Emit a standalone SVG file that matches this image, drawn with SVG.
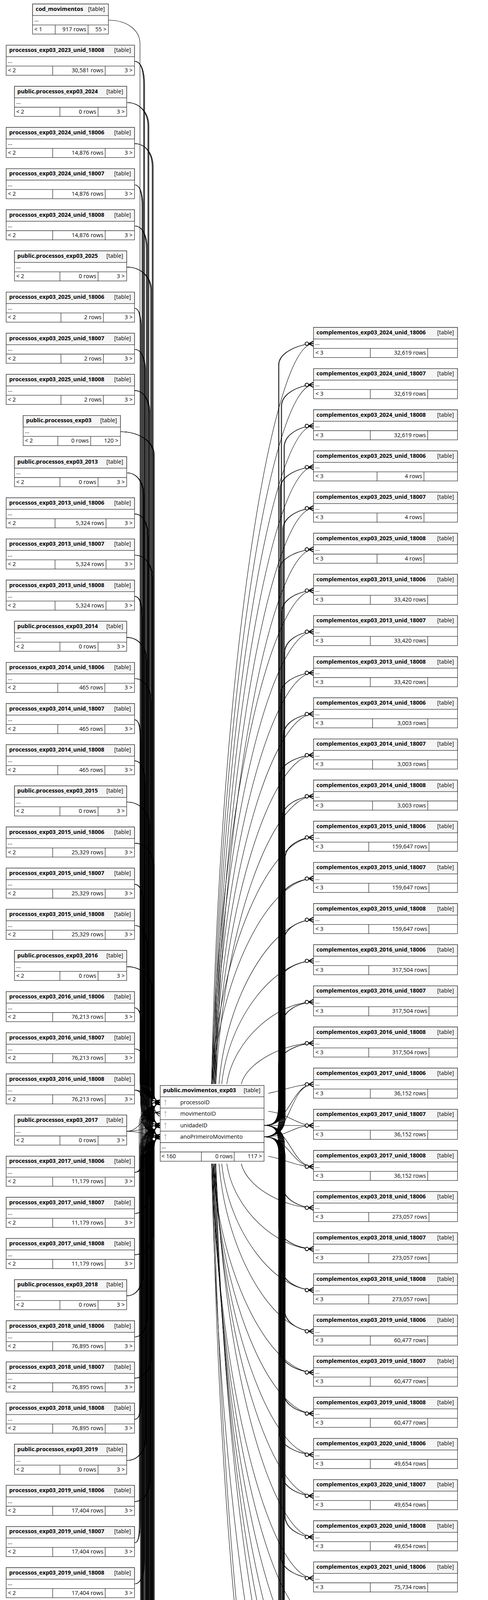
<svg xmlns="http://www.w3.org/2000/svg" width="1248" height="5725" viewBox="0 0 1248 5725">
<style>
text{font-family:"Open Sans","Noto Sans","Liberation Sans",sans-serif;font-size:14.4px;fill:#000}
.n{font-weight:bold}
.r{text-anchor:end}
.bx{fill:#fff;stroke:#333;stroke-width:1.3}
.hd{fill:#f5f5f5;stroke:#333;stroke-width:1.3}
.ln{fill:none;stroke:#333;stroke-width:1.3}
#edges path{fill:none;stroke:#000;stroke-width:1.1;marker-end:url(#cd)}
.key{fill:#c2c2c2}
</style>
<defs>
<marker id="cd" markerUnits="userSpaceOnUse" markerWidth="32" markerHeight="20" viewBox="0 0 32 20" refX="32" refY="10" orient="auto" overflow="visible">
<path d="M19.5,10L32,3.5M19.5,10L32,10M19.5,10L32,16.5" fill="none" stroke="#000" stroke-width="1.9"/>
<circle cx="15" cy="10" r="4.3" fill="#fff" stroke="#000" stroke-width="1.7"/>
</marker>
<g id="key" class="key"><circle cx="0" cy="-4.5" r="2.5"/><rect x="-0.8" y="-2.5" width="1.6" height="10.5"/></g>
<g id="U5"><rect class="bx" width="328.3" height="77"/><rect class="hd" width="328.3" height="29.5"/><path class="ln" d="M0,53.5H328.3M119,53.5V77M253.3,53.5V77"/></g>
<g id="U1"><rect class="bx" width="328.3" height="77"/><rect class="hd" width="328.3" height="29.5"/><path class="ln" d="M0,53.5H328.3M140.2,53.5V77M248.7,53.5V77"/></g>
<g id="U4"><rect class="bx" width="328.3" height="77"/><rect class="hd" width="328.3" height="29.5"/><path class="ln" d="M0,53.5H328.3M125,53.5V77M255.5,53.5V77"/></g>
<g id="U3"><rect class="bx" width="328.3" height="77"/><rect class="hd" width="328.3" height="29.5"/><path class="ln" d="M0,53.5H328.3M132,53.5V77M252.5,53.5V77"/></g>
<g id="P"><rect class="bx" width="287" height="77"/><rect class="hd" width="287" height="29.5"/><path class="ln" d="M0,53.5H287M116.3,53.5V77M213.7,53.5V77"/></g>
<g id="R5"><rect class="bx" width="368.3" height="77"/><rect class="hd" width="368.3" height="29.5"/><path class="ln" d="M0,53.5H368.3M145.3,53.5V77M292,53.5V77"/></g>
<g id="R1"><rect class="bx" width="368.3" height="77"/><rect class="hd" width="368.3" height="29.5"/><path class="ln" d="M0,53.5H368.3M162.6,53.5V77M282.6,53.5V77"/></g>
<g id="R4"><rect class="bx" width="368.3" height="77"/><rect class="hd" width="368.3" height="29.5"/><path class="ln" d="M0,53.5H368.3M151,53.5V77M292.3,53.5V77"/></g>
<g id="R6"><rect class="bx" width="368.3" height="77"/><rect class="hd" width="368.3" height="29.5"/><path class="ln" d="M0,53.5H368.3M141.3,53.5V77M295.3,53.5V77"/></g>
</defs>
<rect width="1248" height="5725" fill="#fff"/>
<g id="edges">
<path d="M277.3,51.8C325,51.8 358,77 358,112V2796.5C358,2831.5 392,2845.5 409.7,2851.5"/>
<path d="M344,157.1C361.5,157.1 367,182.1 367,217.1V2767.2C367,2802.2 392,2816.2 409.7,2822.2"/>
<path d="M344,157.1C361.5,157.1 368.5,182.1 368.5,217.1V2826C368.5,2861 392,2875 409.7,2881"/>
<path d="M344,157.1C361.5,157.1 370,182.1 370,217.1V2855.3C370,2890.3 392,2904.3 409.7,2910.3"/>
<path d="M324,262.5C357,262.5 378,287.5 378,322.5V2767.2C378,2802.2 392,2816.2 409.7,2822.2"/>
<path d="M324,262.5C357,262.5 379.5,287.5 379.5,322.5V2826C379.5,2861 392,2875 409.7,2881"/>
<path d="M324,262.5C357,262.5 381,287.5 381,322.5V2855.3C381,2890.3 392,2904.3 409.7,2910.3"/>
<path d="M344,367.8C372.5,367.8 389,392.8 389,427.8V2767.2C389,2802.2 392,2816.2 409.7,2822.2"/>
<path d="M344,367.8C372.5,367.8 390.5,392.8 390.5,427.8V2826C390.5,2861 392,2875 409.7,2881"/>
<path d="M344,367.8C372.5,367.8 392,392.8 392,427.8V2855.3C392,2890.3 392,2904.3 409.7,2910.3"/>
<path d="M344,473.2C359.5,473.2 363,498.2 363,533.2V2767.2C363,2802.2 392,2816.2 409.7,2822.2"/>
<path d="M344,473.2C359.5,473.2 364.5,498.2 364.5,533.2V2826C364.5,2861 392,2875 409.7,2881"/>
<path d="M344,473.2C359.5,473.2 366,498.2 366,533.2V2855.3C366,2890.3 392,2904.3 409.7,2910.3"/>
<path d="M344,578.5C365,578.5 374,603.5 374,638.5V2767.2C374,2802.2 392,2816.2 409.7,2822.2"/>
<path d="M344,578.5C365,578.5 375.5,603.5 375.5,638.5V2826C375.5,2861 392,2875 409.7,2881"/>
<path d="M344,578.5C365,578.5 377,603.5 377,638.5V2855.3C377,2890.3 392,2904.3 409.7,2910.3"/>
<path d="M324,683.8C360.5,683.8 385,708.8 385,743.8V2767.2C385,2802.2 392,2816.2 409.7,2822.2"/>
<path d="M324,683.8C360.5,683.8 386.5,708.8 386.5,743.8V2826C386.5,2861 392,2875 409.7,2881"/>
<path d="M324,683.8C360.5,683.8 388,708.8 388,743.8V2855.3C388,2890.3 392,2904.3 409.7,2910.3"/>
<path d="M344,789.2C357.5,789.2 359,814.2 359,849.2V2767.2C359,2802.2 392,2816.2 409.7,2822.2"/>
<path d="M344,789.2C357.5,789.2 360.5,814.2 360.5,849.2V2826C360.5,2861 392,2875 409.7,2881"/>
<path d="M344,789.2C357.5,789.2 362,814.2 362,849.2V2855.3C362,2890.3 392,2904.3 409.7,2910.3"/>
<path d="M344,894.5C363,894.5 370,919.5 370,954.5V2767.2C370,2802.2 392,2816.2 409.7,2822.2"/>
<path d="M344,894.5C363,894.5 371.5,919.5 371.5,954.5V2826C371.5,2861 392,2875 409.7,2881"/>
<path d="M344,894.5C363,894.5 373,919.5 373,954.5V2855.3C373,2890.3 392,2904.3 409.7,2910.3"/>
<path d="M344,999.9C368.5,999.9 381,1024.9 381,1059.9V2767.2C381,2802.2 392,2816.2 409.7,2822.2"/>
<path d="M344,999.9C368.5,999.9 382.5,1024.9 382.5,1059.9V2826C382.5,2861 392,2875 409.7,2881"/>
<path d="M344,999.9C368.5,999.9 384,1024.9 384,1059.9V2855.3C384,2890.3 392,2904.3 409.7,2910.3"/>
<path d="M308.1,1105.2C356,1105.2 392,1130.2 392,1165.2V2767.2C392,2802.2 392,2816.2 409.7,2822.2"/>
<path d="M308.1,1105.2C356,1105.2 393.5,1130.2 393.5,1165.2V2826C393.5,2861 392,2875 409.7,2881"/>
<path d="M308.1,1105.2C356,1105.2 395,1130.2 395,1165.2V2855.3C395,2890.3 392,2904.3 409.7,2910.3"/>
<path d="M324,1210.5C351,1210.5 366,1235.5 366,1270.5V2767.2C366,2802.2 392,2816.2 409.7,2822.2"/>
<path d="M324,1210.5C351,1210.5 367.5,1235.5 367.5,1270.5V2826C367.5,2861 392,2875 409.7,2881"/>
<path d="M324,1210.5C351,1210.5 369,1235.5 369,1270.5V2855.3C369,2890.3 392,2904.3 409.7,2910.3"/>
<path d="M344,1315.9C366.5,1315.9 377,1340.9 377,1375.9V2767.2C377,2802.2 392,2816.2 409.7,2822.2"/>
<path d="M344,1315.9C366.5,1315.9 378.5,1340.9 378.5,1375.9V2826C378.5,2861 392,2875 409.7,2881"/>
<path d="M344,1315.9C366.5,1315.9 380,1340.9 380,1375.9V2855.3C380,2890.3 392,2904.3 409.7,2910.3"/>
<path d="M344,1421.2C372,1421.2 388,1446.2 388,1481.2V2767.2C388,2802.2 392,2816.2 409.7,2822.2"/>
<path d="M344,1421.2C372,1421.2 389.5,1446.2 389.5,1481.2V2826C389.5,2861 392,2875 409.7,2881"/>
<path d="M344,1421.2C372,1421.2 391,1446.2 391,1481.2V2855.3C391,2890.3 392,2904.3 409.7,2910.3"/>
<path d="M344,1526.6C359,1526.6 362,1551.6 362,1586.6V2767.2C362,2802.2 392,2816.2 409.7,2822.2"/>
<path d="M344,1526.6C359,1526.6 363.5,1551.6 363.5,1586.6V2826C363.5,2861 392,2875 409.7,2881"/>
<path d="M344,1526.6C359,1526.6 365,1551.6 365,1586.6V2855.3C365,2890.3 392,2904.3 409.7,2910.3"/>
<path d="M324,1631.9C354.5,1631.9 373,1656.9 373,1691.9V2767.2C373,2802.2 392,2816.2 409.7,2822.2"/>
<path d="M324,1631.9C354.5,1631.9 374.5,1656.9 374.5,1691.9V2826C374.5,2861 392,2875 409.7,2881"/>
<path d="M324,1631.9C354.5,1631.9 376,1656.9 376,1691.9V2855.3C376,2890.3 392,2904.3 409.7,2910.3"/>
<path d="M344,1737.2C370,1737.2 384,1762.2 384,1797.2V2767.2C384,2802.2 392,2816.2 409.7,2822.2"/>
<path d="M344,1737.2C370,1737.2 385.5,1762.2 385.5,1797.2V2826C385.5,2861 392,2875 409.7,2881"/>
<path d="M344,1737.2C370,1737.2 387,1762.2 387,1797.2V2855.3C387,2890.3 392,2904.3 409.7,2910.3"/>
<path d="M344,1842.6C357,1842.6 358,1867.6 358,1902.6V2767.2C358,2802.2 392,2816.2 409.7,2822.2"/>
<path d="M344,1842.6C357,1842.6 359.5,1867.6 359.5,1902.6V2826C359.5,2861 392,2875 409.7,2881"/>
<path d="M344,1842.6C357,1842.6 361,1867.6 361,1902.6V2855.3C361,2890.3 392,2904.3 409.7,2910.3"/>
<path d="M344,1947.9C362.5,1947.9 369,1972.9 369,2007.9V2767.2C369,2802.2 392,2816.2 409.7,2822.2"/>
<path d="M344,1947.9C362.5,1947.9 370.5,1972.9 370.5,2007.9V2826C370.5,2861 392,2875 409.7,2881"/>
<path d="M344,1947.9C362.5,1947.9 372,1972.9 372,2007.9V2855.3C372,2890.3 392,2904.3 409.7,2910.3"/>
<path d="M324,2053.3C358,2053.3 380,2078.3 380,2113.3V2767.2C380,2802.2 392,2816.2 409.7,2822.2"/>
<path d="M324,2053.3C358,2053.3 381.5,2078.3 381.5,2113.3V2826C381.5,2861 392,2875 409.7,2881"/>
<path d="M324,2053.3C358,2053.3 383,2078.3 383,2113.3V2855.3C383,2890.3 392,2904.3 409.7,2910.3"/>
<path d="M344,2158.6C373.5,2158.6 391,2183.6 391,2218.6V2767.2C391,2802.2 392,2816.2 409.7,2822.2"/>
<path d="M344,2158.6C373.5,2158.6 392.5,2183.6 392.5,2218.6V2826C392.5,2861 392,2875 409.7,2881"/>
<path d="M344,2158.6C373.5,2158.6 394,2183.6 394,2218.6V2855.3C394,2890.3 392,2904.3 409.7,2910.3"/>
<path d="M344,2263.9C360.5,2263.9 365,2288.9 365,2323.9V2767.2C365,2802.2 392,2816.2 409.7,2822.2"/>
<path d="M344,2263.9C360.5,2263.9 366.5,2288.9 366.5,2323.9V2826C366.5,2861 392,2875 409.7,2881"/>
<path d="M344,2263.9C360.5,2263.9 368,2288.9 368,2323.9V2855.3C368,2890.3 392,2904.3 409.7,2910.3"/>
<path d="M344,2369.3C366,2369.3 376,2394.3 376,2429.3V2767.2C376,2802.2 392,2816.2 409.7,2822.2"/>
<path d="M344,2369.3C366,2369.3 377.5,2394.3 377.5,2429.3V2826C377.5,2861 392,2875 409.7,2881"/>
<path d="M344,2369.3C366,2369.3 379,2394.3 379,2429.3V2855.3C379,2890.3 392,2904.3 409.7,2910.3"/>
<path d="M324,2474.6C361.5,2474.6 387,2499.6 387,2534.6V2767.2C387,2802.2 392,2816.2 409.7,2822.2"/>
<path d="M324,2474.6C361.5,2474.6 388.5,2499.6 388.5,2534.6V2826C388.5,2861 392,2875 409.7,2881"/>
<path d="M324,2474.6C361.5,2474.6 390,2499.6 390,2534.6V2855.3C390,2890.3 392,2904.3 409.7,2910.3"/>
<path d="M344,2580C358.5,2580 361,2605 361,2640V2767.2C361,2802.2 392,2816.2 409.7,2822.2"/>
<path d="M344,2580C358.5,2580 362.5,2605 362.5,2640V2826C362.5,2861 392,2875 409.7,2881"/>
<path d="M344,2580C358.5,2580 364,2605 364,2640V2855.3C364,2890.3 392,2904.3 409.7,2910.3"/>
<path d="M344,2685.3C364,2685.3 372,2710.3 372,2745.3V2767.2C372,2802.2 392,2816.2 409.7,2822.2"/>
<path d="M344,2685.3C364,2685.3 373.5,2710.3 373.5,2745.3V2826C373.5,2861 392,2875 409.7,2881"/>
<path d="M344,2685.3C364,2685.3 375,2710.3 375,2745.3V2855.3C375,2890.3 392,2904.3 409.7,2910.3"/>
<path d="M344,2790.6C375,2790.6 385,2822.2 409.7,2822.2"/>
<path d="M344,2790.6C380,2790.6 380,2881 409.7,2881"/>
<path d="M344,2790.6C385,2790.6 378,2910.3 409.7,2910.3"/>
<path d="M324,2896C370,2896 375,2822.2 409.7,2822.2"/>
<path d="M324,2896C365,2896 380,2881 409.7,2881"/>
<path d="M324,2896C365,2896 380,2910.3 409.7,2910.3"/>
<path d="M344,3001.3C385,3001.3 370,2822.2 409.7,2822.2"/>
<path d="M344,3001.3C385,3001.3 375,2881 409.7,2881"/>
<path d="M344,3001.3C385,3001.3 380,2910.3 409.7,2910.3"/>
<path d="M344,3106.7C367.5,3106.7 379,3081.7 379,3046.7V2877.2C379,2842.2 392,2828.2 409.7,2822.2"/>
<path d="M344,3106.7C367.5,3106.7 380.5,3081.7 380.5,3046.7V2936C380.5,2901 392,2887 409.7,2881"/>
<path d="M344,3106.7C367.5,3106.7 382,3081.7 382,3046.7V2965.3C382,2930.3 392,2916.3 409.7,2910.3"/>
<path d="M344,3212C373,3212 390,3187 390,3152V2877.2C390,2842.2 392,2828.2 409.7,2822.2"/>
<path d="M344,3212C373,3212 391.5,3187 391.5,3152V2936C391.5,2901 392,2887 409.7,2881"/>
<path d="M344,3212C373,3212 393,3187 393,3152V2965.3C393,2930.3 392,2916.3 409.7,2910.3"/>
<path d="M324,3317.3C350,3317.3 364,3292.3 364,3257.3V2877.2C364,2842.2 392,2828.2 409.7,2822.2"/>
<path d="M324,3317.3C350,3317.3 365.5,3292.3 365.5,3257.3V2936C365.5,2901 392,2887 409.7,2881"/>
<path d="M324,3317.3C350,3317.3 367,3292.3 367,3257.3V2965.3C367,2930.3 392,2916.3 409.7,2910.3"/>
<path d="M344,3422.7C365.5,3422.7 375,3397.7 375,3362.7V2877.2C375,2842.2 392,2828.2 409.7,2822.2"/>
<path d="M344,3422.7C365.5,3422.7 376.5,3397.7 376.5,3362.7V2936C376.5,2901 392,2887 409.7,2881"/>
<path d="M344,3422.7C365.5,3422.7 378,3397.7 378,3362.7V2965.3C378,2930.3 392,2916.3 409.7,2910.3"/>
<path d="M344,3528C371,3528 386,3503 386,3468V2877.2C386,2842.2 392,2828.2 409.7,2822.2"/>
<path d="M344,3528C371,3528 387.5,3503 387.5,3468V2936C387.5,2901 392,2887 409.7,2881"/>
<path d="M344,3528C371,3528 389,3503 389,3468V2965.3C389,2930.3 392,2916.3 409.7,2910.3"/>
<path d="M344,3633.4C358,3633.4 360,3608.4 360,3573.4V2877.2C360,2842.2 392,2828.2 409.7,2822.2"/>
<path d="M344,3633.4C358,3633.4 361.5,3608.4 361.5,3573.4V2936C361.5,2901 392,2887 409.7,2881"/>
<path d="M344,3633.4C358,3633.4 363,3608.4 363,3573.4V2965.3C363,2930.3 392,2916.3 409.7,2910.3"/>
<path d="M324,3738.7C353.5,3738.7 371,3713.7 371,3678.7V2877.2C371,2842.2 392,2828.2 409.7,2822.2"/>
<path d="M324,3738.7C353.5,3738.7 372.5,3713.7 372.5,3678.7V2936C372.5,2901 392,2887 409.7,2881"/>
<path d="M324,3738.7C353.5,3738.7 374,3713.7 374,3678.7V2965.3C374,2930.3 392,2916.3 409.7,2910.3"/>
<path d="M344,3844C369,3844 382,3819 382,3784V2877.2C382,2842.2 392,2828.2 409.7,2822.2"/>
<path d="M344,3844C369,3844 383.5,3819 383.5,3784V2936C383.5,2901 392,2887 409.7,2881"/>
<path d="M344,3844C369,3844 385,3819 385,3784V2965.3C385,2930.3 392,2916.3 409.7,2910.3"/>
<path d="M344,3949.4C356,3949.4 356,3924.4 356,3889.4V2877.2C356,2842.2 392,2828.2 409.7,2822.2"/>
<path d="M344,3949.4C356,3949.4 357.5,3924.4 357.5,3889.4V2936C357.5,2901 392,2887 409.7,2881"/>
<path d="M344,3949.4C356,3949.4 359,3924.4 359,3889.4V2965.3C359,2930.3 392,2916.3 409.7,2910.3"/>
<path d="M344,4054.7C361.5,4054.7 367,4029.7 367,3994.7V2877.2C367,2842.2 392,2828.2 409.7,2822.2"/>
<path d="M344,4054.7C361.5,4054.7 368.5,4029.7 368.5,3994.7V2936C368.5,2901 392,2887 409.7,2881"/>
<path d="M344,4054.7C361.5,4054.7 370,4029.7 370,3994.7V2965.3C370,2930.3 392,2916.3 409.7,2910.3"/>
<path d="M324,4160.1C357,4160.1 378,4135.1 378,4100.1V2877.2C378,2842.2 392,2828.2 409.7,2822.2"/>
<path d="M324,4160.1C357,4160.1 379.5,4135.1 379.5,4100.1V2936C379.5,2901 392,2887 409.7,2881"/>
<path d="M324,4160.1C357,4160.1 381,4135.1 381,4100.1V2965.3C381,2930.3 392,2916.3 409.7,2910.3"/>
<path d="M344,4265.4C372.5,4265.4 389,4240.4 389,4205.4V2877.2C389,2842.2 392,2828.2 409.7,2822.2"/>
<path d="M344,4265.4C372.5,4265.4 390.5,4240.4 390.5,4205.4V2936C390.5,2901 392,2887 409.7,2881"/>
<path d="M344,4265.4C372.5,4265.4 392,4240.4 392,4205.4V2965.3C392,2930.3 392,2916.3 409.7,2910.3"/>
<path d="M344,4370.7C359.5,4370.7 363,4345.7 363,4310.7V2877.2C363,2842.2 392,2828.2 409.7,2822.2"/>
<path d="M344,4370.7C359.5,4370.7 364.5,4345.7 364.5,4310.7V2936C364.5,2901 392,2887 409.7,2881"/>
<path d="M344,4370.7C359.5,4370.7 366,4345.7 366,4310.7V2965.3C366,2930.3 392,2916.3 409.7,2910.3"/>
<path d="M344,4476.1C365,4476.1 374,4451.1 374,4416.1V2877.2C374,2842.2 392,2828.2 409.7,2822.2"/>
<path d="M344,4476.1C365,4476.1 375.5,4451.1 375.5,4416.1V2936C375.5,2901 392,2887 409.7,2881"/>
<path d="M344,4476.1C365,4476.1 377,4451.1 377,4416.1V2965.3C377,2930.3 392,2916.3 409.7,2910.3"/>
<path d="M324,4581.4C360.5,4581.4 385,4556.4 385,4521.4V2877.2C385,2842.2 392,2828.2 409.7,2822.2"/>
<path d="M324,4581.4C360.5,4581.4 386.5,4556.4 386.5,4521.4V2936C386.5,2901 392,2887 409.7,2881"/>
<path d="M324,4581.4C360.5,4581.4 388,4556.4 388,4521.4V2965.3C388,2930.3 392,2916.3 409.7,2910.3"/>
<path d="M344,4686.8C357.5,4686.8 359,4661.8 359,4626.8V2877.2C359,2842.2 392,2828.2 409.7,2822.2"/>
<path d="M344,4686.8C357.5,4686.8 360.5,4661.8 360.5,4626.8V2936C360.5,2901 392,2887 409.7,2881"/>
<path d="M344,4686.8C357.5,4686.8 362,4661.8 362,4626.8V2965.3C362,2930.3 392,2916.3 409.7,2910.3"/>
<path d="M344,4792.1C363,4792.1 370,4767.1 370,4732.1V2877.2C370,2842.2 392,2828.2 409.7,2822.2"/>
<path d="M344,4792.1C363,4792.1 371.5,4767.1 371.5,4732.1V2936C371.5,2901 392,2887 409.7,2881"/>
<path d="M344,4792.1C363,4792.1 373,4767.1 373,4732.1V2965.3C373,2930.3 392,2916.3 409.7,2910.3"/>
<path d="M344,4897.4C368.5,4897.4 381,4872.4 381,4837.4V2877.2C381,2842.2 392,2828.2 409.7,2822.2"/>
<path d="M344,4897.4C368.5,4897.4 382.5,4872.4 382.5,4837.4V2936C382.5,2901 392,2887 409.7,2881"/>
<path d="M344,4897.4C368.5,4897.4 384,4872.4 384,4837.4V2965.3C384,2930.3 392,2916.3 409.7,2910.3"/>
<path d="M324,5002.8C364,5002.8 392,4977.8 392,4942.8V2877.2C392,2842.2 392,2828.2 409.7,2822.2"/>
<path d="M324,5002.8C364,5002.8 393.5,4977.8 393.5,4942.8V2936C393.5,2901 392,2887 409.7,2881"/>
<path d="M324,5002.8C364,5002.8 395,4977.8 395,4942.8V2965.3C395,2930.3 392,2916.3 409.7,2910.3"/>
<path d="M344,5108.1C361,5108.1 366,5083.1 366,5048.1V2877.2C366,2842.2 392,2828.2 409.7,2822.2"/>
<path d="M344,5108.1C361,5108.1 367.5,5083.1 367.5,5048.1V2936C367.5,2901 392,2887 409.7,2881"/>
<path d="M344,5108.1C361,5108.1 369,5083.1 369,5048.1V2965.3C369,2930.3 392,2916.3 409.7,2910.3"/>
<path d="M344,5213.5C366.5,5213.5 377,5188.5 377,5153.5V2877.2C377,2842.2 392,2828.2 409.7,2822.2"/>
<path d="M344,5213.5C366.5,5213.5 378.5,5188.5 378.5,5153.5V2936C378.5,2901 392,2887 409.7,2881"/>
<path d="M344,5213.5C366.5,5213.5 380,5188.5 380,5153.5V2965.3C380,2930.3 392,2916.3 409.7,2910.3"/>
<path d="M344,5318.8C372,5318.8 388,5293.8 388,5258.8V2877.2C388,2842.2 392,2828.2 409.7,2822.2"/>
<path d="M344,5318.8C372,5318.8 389.5,5293.8 389.5,5258.8V2936C389.5,2901 392,2887 409.7,2881"/>
<path d="M344,5318.8C372,5318.8 391,5293.8 391,5258.8V2965.3C391,2930.3 392,2916.3 409.7,2910.3"/>
<path d="M324,5424.1C349,5424.1 362,5399.1 362,5364.1V2877.2C362,2842.2 392,2828.2 409.7,2822.2"/>
<path d="M324,5424.1C349,5424.1 363.5,5399.1 363.5,5364.1V2936C363.5,2901 392,2887 409.7,2881"/>
<path d="M324,5424.1C349,5424.1 365,5399.1 365,5364.1V2965.3C365,2930.3 392,2916.3 409.7,2910.3"/>
<path d="M344,5529.5C364.5,5529.5 373,5504.5 373,5469.5V2877.2C373,2842.2 392,2828.2 409.7,2822.2"/>
<path d="M344,5529.5C364.5,5529.5 374.5,5504.5 374.5,5469.5V2936C374.5,2901 392,2887 409.7,2881"/>
<path d="M344,5529.5C364.5,5529.5 376,5504.5 376,5469.5V2965.3C376,2930.3 392,2916.3 409.7,2910.3"/>
<path d="M344,5634.8C370,5634.8 384,5609.8 384,5574.8V2877.2C384,2842.2 392,2828.2 409.7,2822.2"/>
<path d="M344,5634.8C370,5634.8 385.5,5609.8 385.5,5574.8V2936C385.5,2901 392,2887 409.7,2881"/>
<path d="M344,5634.8C370,5634.8 387,5609.8 387,5574.8V2965.3C387,2930.3 392,2916.3 409.7,2910.3"/>
<path d="M541,2775C561.9,1732.6 691.4,879.8 801.7,879.8"/>
<path d="M543.2,2775C563.9,1790.6 692.5,985.1 801.7,985.1"/>
<path d="M545.4,2775C565.9,1848.5 693.6,1090.5 801.7,1090.5"/>
<path d="M547.6,2775C567.9,1906.4 694.7,1195.8 801.7,1195.8"/>
<path d="M549.8,2775C570,1964.4 695.8,1301.2 801.7,1301.2"/>
<path d="M552,2775C572,2022.3 696.9,1406.5 801.7,1406.5"/>
<path d="M541,2775C561.9,2080.2 691.4,1511.8 801.7,1511.8"/>
<path d="M543.2,2775C563.9,2138.2 692.5,1617.2 801.7,1617.2"/>
<path d="M545.4,2775C565.9,2196.1 693.6,1722.5 801.7,1722.5"/>
<path d="M547.6,2775C567.9,2254.1 694.7,1827.9 801.7,1827.9"/>
<path d="M549.8,2775C570,2312 695.8,1933.2 801.7,1933.2"/>
<path d="M552,2775C572,2369.9 696.9,2038.5 801.7,2038.5"/>
<path d="M541,2775C561.9,2427.9 691.4,2143.9 801.7,2143.9"/>
<path d="M543.2,2775C563.9,2485.8 692.5,2249.2 801.7,2249.2"/>
<path d="M560,2775C579.3,2543.8 700.9,2354.6 801.7,2354.6"/>
<path d="M567,2775C585.8,2601.7 704.4,2459.9 801.7,2459.9"/>
<path d="M580,2775C597.7,2659.6 710.9,2565.2 801.7,2565.2"/>
<path d="M617,2775C631.8,2717.6 729.4,2670.6 801.7,2670.6"/>
<path d="M686,2799C730,2790 760,2775.9 801.7,2775.9"/>
<path d="M686,2845C735,2850 760,2881.3 801.7,2881.3"/>
<path d="M686,2960C730,2968 760,2986.6 801.7,2986.6"/>
<path d="M617,2979C631.8,3041.1 729.4,3091.9 801.7,3091.9"/>
<path d="M580,2979C597.7,3099.1 710.9,3197.3 801.7,3197.3"/>
<path d="M567,2979C585.8,3157 704.4,3302.6 801.7,3302.6"/>
<path d="M560,2979C579.3,3215 700.9,3408 801.7,3408"/>
<path d="M543.2,2979C563.9,3272.9 692.5,3513.3 801.7,3513.3"/>
<path d="M545.4,2979C565.9,3330.8 693.6,3618.6 801.7,3618.6"/>
<path d="M547.6,2979C567.9,3388.8 694.7,3724 801.7,3724"/>
<path d="M549.8,2979C570,3446.7 695.8,3829.3 801.7,3829.3"/>
<path d="M552,2979C572,3504.6 696.9,3934.7 801.7,3934.7"/>
<path d="M541,2979C561.9,3562.6 691.4,4040 801.7,4040"/>
<path d="M543.2,2979C563.9,3620.5 692.5,4145.3 801.7,4145.3"/>
<path d="M545.4,2979C565.9,3678.4 693.6,4250.7 801.7,4250.7"/>
<path d="M547.6,2979C567.9,3736.4 694.7,4356 801.7,4356"/>
<path d="M549.8,2979C570,3794.3 695.8,4461.4 801.7,4461.4"/>
<path d="M552,2979C572,3852.2 696.9,4566.7 801.7,4566.7"/>
<path d="M541,2979C561.9,3910.2 691.4,4672 801.7,4672"/>
<path d="M543.2,2979C559,3987 657.1,4811.7 741,4811.7"/>
<path d="M545.4,2979C565.9,4112.3 693.6,5039.5 801.7,5039.5"/>
<path d="M675.3,2881C700,2881 712,2871 712,2831V934.8C712,899.8 770,879.8 801.7,879.8"/>
<path d="M675.3,2910.3C700,2910.3 713.5,2900.3 713.5,2860.3V934.8C713.5,899.8 770,879.8 801.7,879.8"/>
<path d="M675.3,2881C700,2881 719,2871 719,2831V1040.1C719,1005.1 770,985.1 801.7,985.1"/>
<path d="M675.3,2910.3C700,2910.3 720.5,2900.3 720.5,2860.3V1040.1C720.5,1005.1 770,985.1 801.7,985.1"/>
<path d="M675.3,2881C700,2881 726,2871 726,2831V1145.5C726,1110.5 770,1090.5 801.7,1090.5"/>
<path d="M675.3,2910.3C700,2910.3 727.5,2900.3 727.5,2860.3V1145.5C727.5,1110.5 770,1090.5 801.7,1090.5"/>
<path d="M675.3,2881C700,2881 716,2871 716,2831V1250.8C716,1215.8 770,1195.8 801.7,1195.8"/>
<path d="M675.3,2910.3C700,2910.3 717.5,2900.3 717.5,2860.3V1250.8C717.5,1215.8 770,1195.8 801.7,1195.8"/>
<path d="M675.3,2881C700,2881 723,2871 723,2831V1356.2C723,1321.2 770,1301.2 801.7,1301.2"/>
<path d="M675.3,2910.3C700,2910.3 724.5,2900.3 724.5,2860.3V1356.2C724.5,1321.2 770,1301.2 801.7,1301.2"/>
<path d="M675.3,2881C700,2881 713,2871 713,2831V1461.5C713,1426.5 770,1406.5 801.7,1406.5"/>
<path d="M675.3,2910.3C700,2910.3 714.5,2900.3 714.5,2860.3V1461.5C714.5,1426.5 770,1406.5 801.7,1406.5"/>
<path d="M675.3,2881C700,2881 720,2871 720,2831V1566.8C720,1531.8 770,1511.8 801.7,1511.8"/>
<path d="M675.3,2910.3C700,2910.3 721.5,2900.3 721.5,2860.3V1566.8C721.5,1531.8 770,1511.8 801.7,1511.8"/>
<path d="M675.3,2881C700,2881 727,2871 727,2831V1672.2C727,1637.2 770,1617.2 801.7,1617.2"/>
<path d="M675.3,2910.3C700,2910.3 728.5,2900.3 728.5,2860.3V1672.2C728.5,1637.2 770,1617.2 801.7,1617.2"/>
<path d="M675.3,2881C700,2881 717,2871 717,2831V1777.5C717,1742.5 770,1722.5 801.7,1722.5"/>
<path d="M675.3,2910.3C700,2910.3 718.5,2900.3 718.5,2860.3V1777.5C718.5,1742.5 770,1722.5 801.7,1722.5"/>
<path d="M675.3,2881C700,2881 724,2871 724,2831V1882.9C724,1847.9 770,1827.9 801.7,1827.9"/>
<path d="M675.3,2910.3C700,2910.3 725.5,2900.3 725.5,2860.3V1882.9C725.5,1847.9 770,1827.9 801.7,1827.9"/>
<path d="M675.3,2881C700,2881 714,2871 714,2831V1988.2C714,1953.2 770,1933.2 801.7,1933.2"/>
<path d="M675.3,2910.3C700,2910.3 715.5,2900.3 715.5,2860.3V1988.2C715.5,1953.2 770,1933.2 801.7,1933.2"/>
<path d="M675.3,2881C700,2881 721,2871 721,2831V2093.5C721,2058.5 770,2038.5 801.7,2038.5"/>
<path d="M675.3,2910.3C700,2910.3 722.5,2900.3 722.5,2860.3V2093.5C722.5,2058.5 770,2038.5 801.7,2038.5"/>
<path d="M675.3,2881C700,2881 728,2871 728,2831V2198.9C728,2163.9 770,2143.9 801.7,2143.9"/>
<path d="M675.3,2910.3C700,2910.3 729.5,2900.3 729.5,2860.3V2198.9C729.5,2163.9 770,2143.9 801.7,2143.9"/>
<path d="M675.3,2881C700,2881 718,2871 718,2831V2304.2C718,2269.2 770,2249.2 801.7,2249.2"/>
<path d="M675.3,2910.3C700,2910.3 719.5,2900.3 719.5,2860.3V2304.2C719.5,2269.2 770,2249.2 801.7,2249.2"/>
<path d="M675.3,2881C700,2881 725,2871 725,2831V2409.6C725,2374.6 770,2354.6 801.7,2354.6"/>
<path d="M675.3,2910.3C700,2910.3 726.5,2900.3 726.5,2860.3V2409.6C726.5,2374.6 770,2354.6 801.7,2354.6"/>
<path d="M675.3,2881C700,2881 715,2871 715,2831V2514.9C715,2479.9 770,2459.9 801.7,2459.9"/>
<path d="M675.3,2910.3C700,2910.3 716.5,2900.3 716.5,2860.3V2514.9C716.5,2479.9 770,2459.9 801.7,2459.9"/>
<path d="M675.3,2881C700,2881 722,2871 722,2831V2620.2C722,2585.2 770,2565.2 801.7,2565.2"/>
<path d="M675.3,2910.3C700,2910.3 723.5,2900.3 723.5,2860.3V2620.2C723.5,2585.2 770,2565.2 801.7,2565.2"/>
<path d="M675.3,2881C700,2881 712,2871 712,2831V2725.6C712,2690.6 770,2670.6 801.7,2670.6"/>
<path d="M675.3,2910.3C700,2910.3 713.5,2900.3 713.5,2860.3V2725.6C713.5,2690.6 770,2670.6 801.7,2670.6"/>
<path d="M675.3,2881C740,2881 745,2775.9 801.7,2775.9"/>
<path d="M675.3,2910.3C745,2910.3 740,2775.9 801.7,2775.9"/>
<path d="M675.3,2881C720,2881 760,2881.3 801.7,2881.3"/>
<path d="M675.3,2910.3C740,2910.3 745,2881.3 801.7,2881.3"/>
<path d="M675.3,2881C740,2881 745,2986.6 801.7,2986.6"/>
<path d="M675.3,2910.3C740,2910.3 745,2986.6 801.7,2986.6"/>
<path d="M675.3,2881C700,2881 723,2891 723,2931V3036.9C723,3071.9 770,3091.9 801.7,3091.9"/>
<path d="M675.3,2910.3C700,2910.3 724.5,2920.3 724.5,2960.3V3036.9C724.5,3071.9 770,3091.9 801.7,3091.9"/>
<path d="M675.3,2881C700,2881 713,2891 713,2931V3142.3C713,3177.3 770,3197.3 801.7,3197.3"/>
<path d="M675.3,2910.3C700,2910.3 714.5,2920.3 714.5,2960.3V3142.3C714.5,3177.3 770,3197.3 801.7,3197.3"/>
<path d="M675.3,2881C700,2881 720,2891 720,2931V3247.6C720,3282.6 770,3302.6 801.7,3302.6"/>
<path d="M675.3,2910.3C700,2910.3 721.5,2920.3 721.5,2960.3V3247.6C721.5,3282.6 770,3302.6 801.7,3302.6"/>
<path d="M675.3,2881C700,2881 727,2891 727,2931V3353C727,3388 770,3408 801.7,3408"/>
<path d="M675.3,2910.3C700,2910.3 728.5,2920.3 728.5,2960.3V3353C728.5,3388 770,3408 801.7,3408"/>
<path d="M675.3,2881C700,2881 717,2891 717,2931V3458.3C717,3493.3 770,3513.3 801.7,3513.3"/>
<path d="M675.3,2910.3C700,2910.3 718.5,2920.3 718.5,2960.3V3458.3C718.5,3493.3 770,3513.3 801.7,3513.3"/>
<path d="M675.3,2881C700,2881 724,2891 724,2931V3563.6C724,3598.6 770,3618.6 801.7,3618.6"/>
<path d="M675.3,2910.3C700,2910.3 725.5,2920.3 725.5,2960.3V3563.6C725.5,3598.6 770,3618.6 801.7,3618.6"/>
<path d="M675.3,2881C700,2881 714,2891 714,2931V3669C714,3704 770,3724 801.7,3724"/>
<path d="M675.3,2910.3C700,2910.3 715.5,2920.3 715.5,2960.3V3669C715.5,3704 770,3724 801.7,3724"/>
<path d="M675.3,2881C700,2881 721,2891 721,2931V3774.3C721,3809.3 770,3829.3 801.7,3829.3"/>
<path d="M675.3,2910.3C700,2910.3 722.5,2920.3 722.5,2960.3V3774.3C722.5,3809.3 770,3829.3 801.7,3829.3"/>
<path d="M675.3,2881C700,2881 728,2891 728,2931V3879.7C728,3914.7 770,3934.7 801.7,3934.7"/>
<path d="M675.3,2910.3C700,2910.3 729.5,2920.3 729.5,2960.3V3879.7C729.5,3914.7 770,3934.7 801.7,3934.7"/>
<path d="M675.3,2881C700,2881 718,2891 718,2931V3985C718,4020 770,4040 801.7,4040"/>
<path d="M675.3,2910.3C700,2910.3 719.5,2920.3 719.5,2960.3V3985C719.5,4020 770,4040 801.7,4040"/>
<path d="M675.3,2881C700,2881 725,2891 725,2931V4090.3C725,4125.3 770,4145.3 801.7,4145.3"/>
<path d="M675.3,2910.3C700,2910.3 726.5,2920.3 726.5,2960.3V4090.3C726.5,4125.3 770,4145.3 801.7,4145.3"/>
<path d="M675.3,2881C700,2881 715,2891 715,2931V4195.7C715,4230.7 770,4250.7 801.7,4250.7"/>
<path d="M675.3,2910.3C700,2910.3 716.5,2920.3 716.5,2960.3V4195.7C716.5,4230.7 770,4250.7 801.7,4250.7"/>
<path d="M675.3,2881C700,2881 722,2891 722,2931V4301C722,4336 770,4356 801.7,4356"/>
<path d="M675.3,2910.3C700,2910.3 723.5,2920.3 723.5,2960.3V4301C723.5,4336 770,4356 801.7,4356"/>
<path d="M675.3,2881C700,2881 712,2891 712,2931V4406.4C712,4441.4 770,4461.4 801.7,4461.4"/>
<path d="M675.3,2910.3C700,2910.3 713.5,2920.3 713.5,2960.3V4406.4C713.5,4441.4 770,4461.4 801.7,4461.4"/>
<path d="M675.3,2881C700,2881 719,2891 719,2931V4511.7C719,4546.7 770,4566.7 801.7,4566.7"/>
<path d="M675.3,2910.3C700,2910.3 720.5,2920.3 720.5,2960.3V4511.7C720.5,4546.7 770,4566.7 801.7,4566.7"/>
<path d="M675.3,2881C700,2881 726,2891 726,2931V4617C726,4652 770,4672 801.7,4672"/>
<path d="M675.3,2910.3C700,2910.3 727.5,2920.3 727.5,2960.3V4617C727.5,4652 770,4672 801.7,4672"/>
<path d="M675.3,2881C700,2881 716,2891 716,2931V4844.7C716,4879.7 725,4899.7 741,4899.7"/>
<path d="M675.3,2910.3C700,2910.3 717.5,2920.3 717.5,2960.3V4873.8C717.5,4908.8 725,4928.8 741,4928.8"/>
<path d="M675.3,2881C700,2881 723,2891 723,2931V4984.5C723,5019.5 770,5039.5 801.7,5039.5"/>
<path d="M675.3,2910.3C700,2910.3 724.5,2920.3 724.5,2960.3V4984.5C724.5,5019.5 770,5039.5 801.7,5039.5"/>
</g>
<g id="nodes">
<g id="n-cod_movimentos" transform="translate(83.3,10.3)"><rect class="bx" width="194" height="77"/><rect class="hd" width="194" height="29.5"/><path class="ln" d="M0,53.5H194M58,53.5V77M142,53.5V77"/><text class="n" x="8" y="17.5">cod_movimentos</text><text class="r" x="185" y="17.5">[table]</text><text x="4.5" y="45">...</text><text x="4.5" y="69.5">&lt; 1</text><text class="r" x="137.3" y="69.5">917 rows</text><text class="r" x="189" y="69.5">55 &gt;</text></g>
<g id="n-processos_exp03_2023_unid_18008" transform="translate(15.7,115.6)"><use href="#U5"/><text class="n" x="7.7" y="17.5">processos_exp03_2023_unid_18008</text><text class="r" x="319.3" y="17.5">[table]</text><text x="4.5" y="45">...</text><text x="4.5" y="69.5">&lt; 2</text><text class="r" x="248.6" y="69.5">30,581 rows</text><text class="r" x="323.3" y="69.5">3 &gt;</text></g>
<g id="n-public.processos_exp03_2024" transform="translate(37,221)"><use href="#P"/><text class="n" x="7.3" y="17.5">public.processos_exp03_2024</text><text class="r" x="278" y="17.5">[table]</text><text x="4.5" y="45">...</text><text x="4.5" y="69.5">&lt; 2</text><text class="r" x="209" y="69.5">0 rows</text><text class="r" x="282" y="69.5">3 &gt;</text></g>
<g id="n-processos_exp03_2024_unid_18006" transform="translate(15.7,326.3)"><use href="#U5"/><text class="n" x="7.7" y="17.5">processos_exp03_2024_unid_18006</text><text class="r" x="319.3" y="17.5">[table]</text><text x="4.5" y="45">...</text><text x="4.5" y="69.5">&lt; 2</text><text class="r" x="248.6" y="69.5">14,876 rows</text><text class="r" x="323.3" y="69.5">3 &gt;</text></g>
<g id="n-processos_exp03_2024_unid_18007" transform="translate(15.7,431.7)"><use href="#U5"/><text class="n" x="7.7" y="17.5">processos_exp03_2024_unid_18007</text><text class="r" x="319.3" y="17.5">[table]</text><text x="4.5" y="45">...</text><text x="4.5" y="69.5">&lt; 2</text><text class="r" x="248.6" y="69.5">14,876 rows</text><text class="r" x="323.3" y="69.5">3 &gt;</text></g>
<g id="n-processos_exp03_2024_unid_18008" transform="translate(15.7,537)"><use href="#U5"/><text class="n" x="7.7" y="17.5">processos_exp03_2024_unid_18008</text><text class="r" x="319.3" y="17.5">[table]</text><text x="4.5" y="45">...</text><text x="4.5" y="69.5">&lt; 2</text><text class="r" x="248.6" y="69.5">14,876 rows</text><text class="r" x="323.3" y="69.5">3 &gt;</text></g>
<g id="n-public.processos_exp03_2025" transform="translate(37,642.3)"><use href="#P"/><text class="n" x="7.3" y="17.5">public.processos_exp03_2025</text><text class="r" x="278" y="17.5">[table]</text><text x="4.5" y="45">...</text><text x="4.5" y="69.5">&lt; 2</text><text class="r" x="209" y="69.5">0 rows</text><text class="r" x="282" y="69.5">3 &gt;</text></g>
<g id="n-processos_exp03_2025_unid_18006" transform="translate(15.7,747.7)"><use href="#U1"/><text class="n" x="7.7" y="17.5">processos_exp03_2025_unid_18006</text><text class="r" x="319.3" y="17.5">[table]</text><text x="4.5" y="45">...</text><text x="4.5" y="69.5">&lt; 2</text><text class="r" x="244" y="69.5">2 rows</text><text class="r" x="323.3" y="69.5">3 &gt;</text></g>
<g id="n-processos_exp03_2025_unid_18007" transform="translate(15.7,853)"><use href="#U1"/><text class="n" x="7.7" y="17.5">processos_exp03_2025_unid_18007</text><text class="r" x="319.3" y="17.5">[table]</text><text x="4.5" y="45">...</text><text x="4.5" y="69.5">&lt; 2</text><text class="r" x="244" y="69.5">2 rows</text><text class="r" x="323.3" y="69.5">3 &gt;</text></g>
<g id="n-processos_exp03_2025_unid_18008" transform="translate(15.7,958.4)"><use href="#U1"/><text class="n" x="7.7" y="17.5">processos_exp03_2025_unid_18008</text><text class="r" x="319.3" y="17.5">[table]</text><text x="4.5" y="45">...</text><text x="4.5" y="69.5">&lt; 2</text><text class="r" x="244" y="69.5">2 rows</text><text class="r" x="323.3" y="69.5">3 &gt;</text></g>
<g id="n-public.processos_exp03" transform="translate(59.3,1063.7)"><rect class="bx" width="248.8" height="77"/><rect class="hd" width="248.8" height="29.5"/><path class="ln" d="M0,53.5H248.8M88.5,53.5V77M172.6,53.5V77"/><text class="n" x="7.5" y="17.5">public.processos_exp03</text><text class="r" x="240" y="17.5">[table]</text><text x="4.5" y="45">...</text><text x="4.5" y="69.5">&lt; 2</text><text class="r" x="167.5" y="69.5">0 rows</text><text class="r" x="243.5" y="69.5">120 &gt;</text></g>
<g id="n-public.processos_exp03_2013" transform="translate(37,1169)"><use href="#P"/><text class="n" x="7.3" y="17.5">public.processos_exp03_2013</text><text class="r" x="278" y="17.5">[table]</text><text x="4.5" y="45">...</text><text x="4.5" y="69.5">&lt; 2</text><text class="r" x="209" y="69.5">0 rows</text><text class="r" x="282" y="69.5">3 &gt;</text></g>
<g id="n-processos_exp03_2013_unid_18006" transform="translate(15.7,1274.4)"><use href="#U4"/><text class="n" x="7.7" y="17.5">processos_exp03_2013_unid_18006</text><text class="r" x="319.3" y="17.5">[table]</text><text x="4.5" y="45">...</text><text x="4.5" y="69.5">&lt; 2</text><text class="r" x="250.8" y="69.5">5,324 rows</text><text class="r" x="323.3" y="69.5">3 &gt;</text></g>
<g id="n-processos_exp03_2013_unid_18007" transform="translate(15.7,1379.7)"><use href="#U4"/><text class="n" x="7.7" y="17.5">processos_exp03_2013_unid_18007</text><text class="r" x="319.3" y="17.5">[table]</text><text x="4.5" y="45">...</text><text x="4.5" y="69.5">&lt; 2</text><text class="r" x="250.8" y="69.5">5,324 rows</text><text class="r" x="323.3" y="69.5">3 &gt;</text></g>
<g id="n-processos_exp03_2013_unid_18008" transform="translate(15.7,1485.1)"><use href="#U4"/><text class="n" x="7.7" y="17.5">processos_exp03_2013_unid_18008</text><text class="r" x="319.3" y="17.5">[table]</text><text x="4.5" y="45">...</text><text x="4.5" y="69.5">&lt; 2</text><text class="r" x="250.8" y="69.5">5,324 rows</text><text class="r" x="323.3" y="69.5">3 &gt;</text></g>
<g id="n-public.processos_exp03_2014" transform="translate(37,1590.4)"><use href="#P"/><text class="n" x="7.3" y="17.5">public.processos_exp03_2014</text><text class="r" x="278" y="17.5">[table]</text><text x="4.5" y="45">...</text><text x="4.5" y="69.5">&lt; 2</text><text class="r" x="209" y="69.5">0 rows</text><text class="r" x="282" y="69.5">3 &gt;</text></g>
<g id="n-processos_exp03_2014_unid_18006" transform="translate(15.7,1695.7)"><use href="#U3"/><text class="n" x="7.7" y="17.5">processos_exp03_2014_unid_18006</text><text class="r" x="319.3" y="17.5">[table]</text><text x="4.5" y="45">...</text><text x="4.5" y="69.5">&lt; 2</text><text class="r" x="247.8" y="69.5">465 rows</text><text class="r" x="323.3" y="69.5">3 &gt;</text></g>
<g id="n-processos_exp03_2014_unid_18007" transform="translate(15.7,1801.1)"><use href="#U3"/><text class="n" x="7.7" y="17.5">processos_exp03_2014_unid_18007</text><text class="r" x="319.3" y="17.5">[table]</text><text x="4.5" y="45">...</text><text x="4.5" y="69.5">&lt; 2</text><text class="r" x="247.8" y="69.5">465 rows</text><text class="r" x="323.3" y="69.5">3 &gt;</text></g>
<g id="n-processos_exp03_2014_unid_18008" transform="translate(15.7,1906.4)"><use href="#U3"/><text class="n" x="7.7" y="17.5">processos_exp03_2014_unid_18008</text><text class="r" x="319.3" y="17.5">[table]</text><text x="4.5" y="45">...</text><text x="4.5" y="69.5">&lt; 2</text><text class="r" x="247.8" y="69.5">465 rows</text><text class="r" x="323.3" y="69.5">3 &gt;</text></g>
<g id="n-public.processos_exp03_2015" transform="translate(37,2011.8)"><use href="#P"/><text class="n" x="7.3" y="17.5">public.processos_exp03_2015</text><text class="r" x="278" y="17.5">[table]</text><text x="4.5" y="45">...</text><text x="4.5" y="69.5">&lt; 2</text><text class="r" x="209" y="69.5">0 rows</text><text class="r" x="282" y="69.5">3 &gt;</text></g>
<g id="n-processos_exp03_2015_unid_18006" transform="translate(15.7,2117.1)"><use href="#U5"/><text class="n" x="7.7" y="17.5">processos_exp03_2015_unid_18006</text><text class="r" x="319.3" y="17.5">[table]</text><text x="4.5" y="45">...</text><text x="4.5" y="69.5">&lt; 2</text><text class="r" x="248.6" y="69.5">25,329 rows</text><text class="r" x="323.3" y="69.5">3 &gt;</text></g>
<g id="n-processos_exp03_2015_unid_18007" transform="translate(15.7,2222.4)"><use href="#U5"/><text class="n" x="7.7" y="17.5">processos_exp03_2015_unid_18007</text><text class="r" x="319.3" y="17.5">[table]</text><text x="4.5" y="45">...</text><text x="4.5" y="69.5">&lt; 2</text><text class="r" x="248.6" y="69.5">25,329 rows</text><text class="r" x="323.3" y="69.5">3 &gt;</text></g>
<g id="n-processos_exp03_2015_unid_18008" transform="translate(15.7,2327.8)"><use href="#U5"/><text class="n" x="7.7" y="17.5">processos_exp03_2015_unid_18008</text><text class="r" x="319.3" y="17.5">[table]</text><text x="4.5" y="45">...</text><text x="4.5" y="69.5">&lt; 2</text><text class="r" x="248.6" y="69.5">25,329 rows</text><text class="r" x="323.3" y="69.5">3 &gt;</text></g>
<g id="n-public.processos_exp03_2016" transform="translate(37,2433.1)"><use href="#P"/><text class="n" x="7.3" y="17.5">public.processos_exp03_2016</text><text class="r" x="278" y="17.5">[table]</text><text x="4.5" y="45">...</text><text x="4.5" y="69.5">&lt; 2</text><text class="r" x="209" y="69.5">0 rows</text><text class="r" x="282" y="69.5">3 &gt;</text></g>
<g id="n-processos_exp03_2016_unid_18006" transform="translate(15.7,2538.5)"><use href="#U5"/><text class="n" x="7.7" y="17.5">processos_exp03_2016_unid_18006</text><text class="r" x="319.3" y="17.5">[table]</text><text x="4.5" y="45">...</text><text x="4.5" y="69.5">&lt; 2</text><text class="r" x="248.6" y="69.5">76,213 rows</text><text class="r" x="323.3" y="69.5">3 &gt;</text></g>
<g id="n-processos_exp03_2016_unid_18007" transform="translate(15.7,2643.8)"><use href="#U5"/><text class="n" x="7.7" y="17.5">processos_exp03_2016_unid_18007</text><text class="r" x="319.3" y="17.5">[table]</text><text x="4.5" y="45">...</text><text x="4.5" y="69.5">&lt; 2</text><text class="r" x="248.6" y="69.5">76,213 rows</text><text class="r" x="323.3" y="69.5">3 &gt;</text></g>
<g id="n-processos_exp03_2016_unid_18008" transform="translate(15.7,2749.1)"><use href="#U5"/><text class="n" x="7.7" y="17.5">processos_exp03_2016_unid_18008</text><text class="r" x="319.3" y="17.5">[table]</text><text x="4.5" y="45">...</text><text x="4.5" y="69.5">&lt; 2</text><text class="r" x="248.6" y="69.5">76,213 rows</text><text class="r" x="323.3" y="69.5">3 &gt;</text></g>
<g id="n-public.processos_exp03_2017" transform="translate(37,2854.5)"><use href="#P"/><text class="n" x="7.3" y="17.5">public.processos_exp03_2017</text><text class="r" x="278" y="17.5">[table]</text><text x="4.5" y="45">...</text><text x="4.5" y="69.5">&lt; 2</text><text class="r" x="209" y="69.5">0 rows</text><text class="r" x="282" y="69.5">3 &gt;</text></g>
<g id="n-processos_exp03_2017_unid_18006" transform="translate(15.7,2959.8)"><use href="#U5"/><text class="n" x="7.7" y="17.5">processos_exp03_2017_unid_18006</text><text class="r" x="319.3" y="17.5">[table]</text><text x="4.5" y="45">...</text><text x="4.5" y="69.5">&lt; 2</text><text class="r" x="248.6" y="69.5">11,179 rows</text><text class="r" x="323.3" y="69.5">3 &gt;</text></g>
<g id="n-processos_exp03_2017_unid_18007" transform="translate(15.7,3065.2)"><use href="#U5"/><text class="n" x="7.7" y="17.5">processos_exp03_2017_unid_18007</text><text class="r" x="319.3" y="17.5">[table]</text><text x="4.5" y="45">...</text><text x="4.5" y="69.5">&lt; 2</text><text class="r" x="248.6" y="69.5">11,179 rows</text><text class="r" x="323.3" y="69.5">3 &gt;</text></g>
<g id="n-processos_exp03_2017_unid_18008" transform="translate(15.7,3170.5)"><use href="#U5"/><text class="n" x="7.7" y="17.5">processos_exp03_2017_unid_18008</text><text class="r" x="319.3" y="17.5">[table]</text><text x="4.5" y="45">...</text><text x="4.5" y="69.5">&lt; 2</text><text class="r" x="248.6" y="69.5">11,179 rows</text><text class="r" x="323.3" y="69.5">3 &gt;</text></g>
<g id="n-public.processos_exp03_2018" transform="translate(37,3275.8)"><use href="#P"/><text class="n" x="7.3" y="17.5">public.processos_exp03_2018</text><text class="r" x="278" y="17.5">[table]</text><text x="4.5" y="45">...</text><text x="4.5" y="69.5">&lt; 2</text><text class="r" x="209" y="69.5">0 rows</text><text class="r" x="282" y="69.5">3 &gt;</text></g>
<g id="n-processos_exp03_2018_unid_18006" transform="translate(15.7,3381.2)"><use href="#U5"/><text class="n" x="7.7" y="17.5">processos_exp03_2018_unid_18006</text><text class="r" x="319.3" y="17.5">[table]</text><text x="4.5" y="45">...</text><text x="4.5" y="69.5">&lt; 2</text><text class="r" x="248.6" y="69.5">76,895 rows</text><text class="r" x="323.3" y="69.5">3 &gt;</text></g>
<g id="n-processos_exp03_2018_unid_18007" transform="translate(15.7,3486.5)"><use href="#U5"/><text class="n" x="7.7" y="17.5">processos_exp03_2018_unid_18007</text><text class="r" x="319.3" y="17.5">[table]</text><text x="4.5" y="45">...</text><text x="4.5" y="69.5">&lt; 2</text><text class="r" x="248.6" y="69.5">76,895 rows</text><text class="r" x="323.3" y="69.5">3 &gt;</text></g>
<g id="n-processos_exp03_2018_unid_18008" transform="translate(15.7,3591.9)"><use href="#U5"/><text class="n" x="7.7" y="17.5">processos_exp03_2018_unid_18008</text><text class="r" x="319.3" y="17.5">[table]</text><text x="4.5" y="45">...</text><text x="4.5" y="69.5">&lt; 2</text><text class="r" x="248.6" y="69.5">76,895 rows</text><text class="r" x="323.3" y="69.5">3 &gt;</text></g>
<g id="n-public.processos_exp03_2019" transform="translate(37,3697.2)"><use href="#P"/><text class="n" x="7.3" y="17.5">public.processos_exp03_2019</text><text class="r" x="278" y="17.5">[table]</text><text x="4.5" y="45">...</text><text x="4.5" y="69.5">&lt; 2</text><text class="r" x="209" y="69.5">0 rows</text><text class="r" x="282" y="69.5">3 &gt;</text></g>
<g id="n-processos_exp03_2019_unid_18006" transform="translate(15.7,3802.5)"><use href="#U5"/><text class="n" x="7.7" y="17.5">processos_exp03_2019_unid_18006</text><text class="r" x="319.3" y="17.5">[table]</text><text x="4.5" y="45">...</text><text x="4.5" y="69.5">&lt; 2</text><text class="r" x="248.6" y="69.5">17,404 rows</text><text class="r" x="323.3" y="69.5">3 &gt;</text></g>
<g id="n-processos_exp03_2019_unid_18007" transform="translate(15.7,3907.9)"><use href="#U5"/><text class="n" x="7.7" y="17.5">processos_exp03_2019_unid_18007</text><text class="r" x="319.3" y="17.5">[table]</text><text x="4.5" y="45">...</text><text x="4.5" y="69.5">&lt; 2</text><text class="r" x="248.6" y="69.5">17,404 rows</text><text class="r" x="323.3" y="69.5">3 &gt;</text></g>
<g id="n-processos_exp03_2019_unid_18008" transform="translate(15.7,4013.2)"><use href="#U5"/><text class="n" x="7.7" y="17.5">processos_exp03_2019_unid_18008</text><text class="r" x="319.3" y="17.5">[table]</text><text x="4.5" y="45">...</text><text x="4.5" y="69.5">&lt; 2</text><text class="r" x="248.6" y="69.5">17,404 rows</text><text class="r" x="323.3" y="69.5">3 &gt;</text></g>
<g id="n-public.processos_exp03_2020" transform="translate(37,4118.6)"><use href="#P"/><text class="n" x="7.3" y="17.5">public.processos_exp03_2020</text><text class="r" x="278" y="17.5">[table]</text><text x="4.5" y="45">...</text><text x="4.5" y="69.5">&lt; 2</text><text class="r" x="209" y="69.5">0 rows</text><text class="r" x="282" y="69.5">3 &gt;</text></g>
<g id="n-processos_exp03_2020_unid_18006" transform="translate(15.7,4223.9)"><use href="#U5"/><text class="n" x="7.7" y="17.5">processos_exp03_2020_unid_18006</text><text class="r" x="319.3" y="17.5">[table]</text><text x="4.5" y="45">...</text><text x="4.5" y="69.5">&lt; 2</text><text class="r" x="248.6" y="69.5">16,263 rows</text><text class="r" x="323.3" y="69.5">3 &gt;</text></g>
<g id="n-processos_exp03_2020_unid_18007" transform="translate(15.7,4329.2)"><use href="#U5"/><text class="n" x="7.7" y="17.5">processos_exp03_2020_unid_18007</text><text class="r" x="319.3" y="17.5">[table]</text><text x="4.5" y="45">...</text><text x="4.5" y="69.5">&lt; 2</text><text class="r" x="248.6" y="69.5">16,263 rows</text><text class="r" x="323.3" y="69.5">3 &gt;</text></g>
<g id="n-processos_exp03_2020_unid_18008" transform="translate(15.7,4434.6)"><use href="#U5"/><text class="n" x="7.7" y="17.5">processos_exp03_2020_unid_18008</text><text class="r" x="319.3" y="17.5">[table]</text><text x="4.5" y="45">...</text><text x="4.5" y="69.5">&lt; 2</text><text class="r" x="248.6" y="69.5">16,263 rows</text><text class="r" x="323.3" y="69.5">3 &gt;</text></g>
<g id="n-public.processos_exp03_2021" transform="translate(37,4539.9)"><use href="#P"/><text class="n" x="7.3" y="17.5">public.processos_exp03_2021</text><text class="r" x="278" y="17.5">[table]</text><text x="4.5" y="45">...</text><text x="4.5" y="69.5">&lt; 2</text><text class="r" x="209" y="69.5">0 rows</text><text class="r" x="282" y="69.5">3 &gt;</text></g>
<g id="n-processos_exp03_2021_unid_18006" transform="translate(15.7,4645.3)"><use href="#U5"/><text class="n" x="7.7" y="17.5">processos_exp03_2021_unid_18006</text><text class="r" x="319.3" y="17.5">[table]</text><text x="4.5" y="45">...</text><text x="4.5" y="69.5">&lt; 2</text><text class="r" x="248.6" y="69.5">25,782 rows</text><text class="r" x="323.3" y="69.5">3 &gt;</text></g>
<g id="n-processos_exp03_2021_unid_18007" transform="translate(15.7,4750.6)"><use href="#U5"/><text class="n" x="7.7" y="17.5">processos_exp03_2021_unid_18007</text><text class="r" x="319.3" y="17.5">[table]</text><text x="4.5" y="45">...</text><text x="4.5" y="69.5">&lt; 2</text><text class="r" x="248.6" y="69.5">25,782 rows</text><text class="r" x="323.3" y="69.5">3 &gt;</text></g>
<g id="n-processos_exp03_2021_unid_18008" transform="translate(15.7,4855.9)"><use href="#U5"/><text class="n" x="7.7" y="17.5">processos_exp03_2021_unid_18008</text><text class="r" x="319.3" y="17.5">[table]</text><text x="4.5" y="45">...</text><text x="4.5" y="69.5">&lt; 2</text><text class="r" x="248.6" y="69.5">25,782 rows</text><text class="r" x="323.3" y="69.5">3 &gt;</text></g>
<g id="n-public.processos_exp03_2022" transform="translate(37,4961.3)"><use href="#P"/><text class="n" x="7.3" y="17.5">public.processos_exp03_2022</text><text class="r" x="278" y="17.5">[table]</text><text x="4.5" y="45">...</text><text x="4.5" y="69.5">&lt; 2</text><text class="r" x="209" y="69.5">0 rows</text><text class="r" x="282" y="69.5">3 &gt;</text></g>
<g id="n-processos_exp03_2022_unid_18006" transform="translate(15.7,5066.6)"><use href="#U5"/><text class="n" x="7.7" y="17.5">processos_exp03_2022_unid_18006</text><text class="r" x="319.3" y="17.5">[table]</text><text x="4.5" y="45">...</text><text x="4.5" y="69.5">&lt; 2</text><text class="r" x="248.6" y="69.5">50,124 rows</text><text class="r" x="323.3" y="69.5">3 &gt;</text></g>
<g id="n-processos_exp03_2022_unid_18007" transform="translate(15.7,5172)"><use href="#U5"/><text class="n" x="7.7" y="17.5">processos_exp03_2022_unid_18007</text><text class="r" x="319.3" y="17.5">[table]</text><text x="4.5" y="45">...</text><text x="4.5" y="69.5">&lt; 2</text><text class="r" x="248.6" y="69.5">50,124 rows</text><text class="r" x="323.3" y="69.5">3 &gt;</text></g>
<g id="n-processos_exp03_2022_unid_18008" transform="translate(15.7,5277.3)"><use href="#U5"/><text class="n" x="7.7" y="17.5">processos_exp03_2022_unid_18008</text><text class="r" x="319.3" y="17.5">[table]</text><text x="4.5" y="45">...</text><text x="4.5" y="69.5">&lt; 2</text><text class="r" x="248.6" y="69.5">50,124 rows</text><text class="r" x="323.3" y="69.5">3 &gt;</text></g>
<g id="n-public.processos_exp03_2023" transform="translate(37,5382.6)"><use href="#P"/><text class="n" x="7.3" y="17.5">public.processos_exp03_2023</text><text class="r" x="278" y="17.5">[table]</text><text x="4.5" y="45">...</text><text x="4.5" y="69.5">&lt; 2</text><text class="r" x="209" y="69.5">0 rows</text><text class="r" x="282" y="69.5">3 &gt;</text></g>
<g id="n-processos_exp03_2023_unid_18006" transform="translate(15.7,5488)"><use href="#U5"/><text class="n" x="7.7" y="17.5">processos_exp03_2023_unid_18006</text><text class="r" x="319.3" y="17.5">[table]</text><text x="4.5" y="45">...</text><text x="4.5" y="69.5">&lt; 2</text><text class="r" x="248.6" y="69.5">30,581 rows</text><text class="r" x="323.3" y="69.5">3 &gt;</text></g>
<g id="n-processos_exp03_2023_unid_18007" transform="translate(15.7,5593.3)"><use href="#U5"/><text class="n" x="7.7" y="17.5">processos_exp03_2023_unid_18007</text><text class="r" x="319.3" y="17.5">[table]</text><text x="4.5" y="45">...</text><text x="4.5" y="69.5">&lt; 2</text><text class="r" x="248.6" y="69.5">30,581 rows</text><text class="r" x="323.3" y="69.5">3 &gt;</text></g>
<g id="n-public.movimentos_exp03"><rect class="bx" x="409.7" y="2778.7" width="265.6" height="194"/><rect class="hd" x="409.7" y="2778.7" width="265.6" height="29"/><path class="ln" d="M409.7,2836.7H675.3M409.7,2866.3H675.3M409.7,2895.7H675.3M409.7,2925H675.3M409.7,2949H675.3M515,2949V2972.7M599,2949V2972.7"/><text class="n" x="417.3" y="2796">public.movimentos_exp03</text><text class="r" x="666" y="2796">[table]</text><use href="#key" x="423" y="2822.2"/><use href="#key" x="423" y="2851.5"/><use href="#key" x="423" y="2881"/><use href="#key" x="423" y="2910.3"/><text x="461" y="2826.7">processoID</text><text x="461" y="2856">movimentoID</text><text x="461" y="2885.5">unidadeID</text><text x="461" y="2914.8">anoPrimeiroMovimento</text><text x="413" y="2940">...</text><text x="413" y="2965">&lt; 160</text><text class="r" x="595" y="2965">0 rows</text><text class="r" x="670" y="2965">117 &gt;</text></g>
<g id="n-complementos_exp03_2024_unid_18006" transform="translate(801.7,838.3)"><use href="#R5"/><text class="n" x="7.6" y="17.5">complementos_exp03_2024_unid_18006</text><text class="r" x="359.3" y="17.5">[table]</text><text x="4.3" y="45">...</text><text x="5" y="69.5">&lt; 3</text><text class="r" x="287.3" y="69.5">32,619 rows</text></g>
<g id="n-complementos_exp03_2024_unid_18007" transform="translate(801.7,943.6)"><use href="#R5"/><text class="n" x="7.6" y="17.5">complementos_exp03_2024_unid_18007</text><text class="r" x="359.3" y="17.5">[table]</text><text x="4.3" y="45">...</text><text x="5" y="69.5">&lt; 3</text><text class="r" x="287.3" y="69.5">32,619 rows</text></g>
<g id="n-complementos_exp03_2024_unid_18008" transform="translate(801.7,1049)"><use href="#R5"/><text class="n" x="7.6" y="17.5">complementos_exp03_2024_unid_18008</text><text class="r" x="359.3" y="17.5">[table]</text><text x="4.3" y="45">...</text><text x="5" y="69.5">&lt; 3</text><text class="r" x="287.3" y="69.5">32,619 rows</text></g>
<g id="n-complementos_exp03_2025_unid_18006" transform="translate(801.7,1154.3)"><use href="#R1"/><text class="n" x="7.6" y="17.5">complementos_exp03_2025_unid_18006</text><text class="r" x="359.3" y="17.5">[table]</text><text x="4.3" y="45">...</text><text x="5" y="69.5">&lt; 3</text><text class="r" x="277.9" y="69.5">4 rows</text></g>
<g id="n-complementos_exp03_2025_unid_18007" transform="translate(801.7,1259.7)"><use href="#R1"/><text class="n" x="7.6" y="17.5">complementos_exp03_2025_unid_18007</text><text class="r" x="359.3" y="17.5">[table]</text><text x="4.3" y="45">...</text><text x="5" y="69.5">&lt; 3</text><text class="r" x="277.9" y="69.5">4 rows</text></g>
<g id="n-complementos_exp03_2025_unid_18008" transform="translate(801.7,1365)"><use href="#R1"/><text class="n" x="7.6" y="17.5">complementos_exp03_2025_unid_18008</text><text class="r" x="359.3" y="17.5">[table]</text><text x="4.3" y="45">...</text><text x="5" y="69.5">&lt; 3</text><text class="r" x="277.9" y="69.5">4 rows</text></g>
<g id="n-complementos_exp03_2013_unid_18006" transform="translate(801.7,1470.3)"><use href="#R5"/><text class="n" x="7.6" y="17.5">complementos_exp03_2013_unid_18006</text><text class="r" x="359.3" y="17.5">[table]</text><text x="4.3" y="45">...</text><text x="5" y="69.5">&lt; 3</text><text class="r" x="287.3" y="69.5">33,420 rows</text></g>
<g id="n-complementos_exp03_2013_unid_18007" transform="translate(801.7,1575.7)"><use href="#R5"/><text class="n" x="7.6" y="17.5">complementos_exp03_2013_unid_18007</text><text class="r" x="359.3" y="17.5">[table]</text><text x="4.3" y="45">...</text><text x="5" y="69.5">&lt; 3</text><text class="r" x="287.3" y="69.5">33,420 rows</text></g>
<g id="n-complementos_exp03_2013_unid_18008" transform="translate(801.7,1681)"><use href="#R5"/><text class="n" x="7.6" y="17.5">complementos_exp03_2013_unid_18008</text><text class="r" x="359.3" y="17.5">[table]</text><text x="4.3" y="45">...</text><text x="5" y="69.5">&lt; 3</text><text class="r" x="287.3" y="69.5">33,420 rows</text></g>
<g id="n-complementos_exp03_2014_unid_18006" transform="translate(801.7,1786.4)"><use href="#R4"/><text class="n" x="7.6" y="17.5">complementos_exp03_2014_unid_18006</text><text class="r" x="359.3" y="17.5">[table]</text><text x="4.3" y="45">...</text><text x="5" y="69.5">&lt; 3</text><text class="r" x="287.6" y="69.5">3,003 rows</text></g>
<g id="n-complementos_exp03_2014_unid_18007" transform="translate(801.7,1891.7)"><use href="#R4"/><text class="n" x="7.6" y="17.5">complementos_exp03_2014_unid_18007</text><text class="r" x="359.3" y="17.5">[table]</text><text x="4.3" y="45">...</text><text x="5" y="69.5">&lt; 3</text><text class="r" x="287.6" y="69.5">3,003 rows</text></g>
<g id="n-complementos_exp03_2014_unid_18008" transform="translate(801.7,1997)"><use href="#R4"/><text class="n" x="7.6" y="17.5">complementos_exp03_2014_unid_18008</text><text class="r" x="359.3" y="17.5">[table]</text><text x="4.3" y="45">...</text><text x="5" y="69.5">&lt; 3</text><text class="r" x="287.6" y="69.5">3,003 rows</text></g>
<g id="n-complementos_exp03_2015_unid_18006" transform="translate(801.7,2102.4)"><use href="#R6"/><text class="n" x="7.6" y="17.5">complementos_exp03_2015_unid_18006</text><text class="r" x="359.3" y="17.5">[table]</text><text x="4.3" y="45">...</text><text x="5" y="69.5">&lt; 3</text><text class="r" x="290.6" y="69.5">159,647 rows</text></g>
<g id="n-complementos_exp03_2015_unid_18007" transform="translate(801.7,2207.7)"><use href="#R6"/><text class="n" x="7.6" y="17.5">complementos_exp03_2015_unid_18007</text><text class="r" x="359.3" y="17.5">[table]</text><text x="4.3" y="45">...</text><text x="5" y="69.5">&lt; 3</text><text class="r" x="290.6" y="69.5">159,647 rows</text></g>
<g id="n-complementos_exp03_2015_unid_18008" transform="translate(801.7,2313.1)"><use href="#R6"/><text class="n" x="7.6" y="17.5">complementos_exp03_2015_unid_18008</text><text class="r" x="359.3" y="17.5">[table]</text><text x="4.3" y="45">...</text><text x="5" y="69.5">&lt; 3</text><text class="r" x="290.6" y="69.5">159,647 rows</text></g>
<g id="n-complementos_exp03_2016_unid_18006" transform="translate(801.7,2418.4)"><use href="#R6"/><text class="n" x="7.6" y="17.5">complementos_exp03_2016_unid_18006</text><text class="r" x="359.3" y="17.5">[table]</text><text x="4.3" y="45">...</text><text x="5" y="69.5">&lt; 3</text><text class="r" x="290.6" y="69.5">317,504 rows</text></g>
<g id="n-complementos_exp03_2016_unid_18007" transform="translate(801.7,2523.7)"><use href="#R6"/><text class="n" x="7.6" y="17.5">complementos_exp03_2016_unid_18007</text><text class="r" x="359.3" y="17.5">[table]</text><text x="4.3" y="45">...</text><text x="5" y="69.5">&lt; 3</text><text class="r" x="290.6" y="69.5">317,504 rows</text></g>
<g id="n-complementos_exp03_2016_unid_18008" transform="translate(801.7,2629.1)"><use href="#R6"/><text class="n" x="7.6" y="17.5">complementos_exp03_2016_unid_18008</text><text class="r" x="359.3" y="17.5">[table]</text><text x="4.3" y="45">...</text><text x="5" y="69.5">&lt; 3</text><text class="r" x="290.6" y="69.5">317,504 rows</text></g>
<g id="n-complementos_exp03_2017_unid_18006" transform="translate(801.7,2734.4)"><use href="#R5"/><text class="n" x="7.6" y="17.5">complementos_exp03_2017_unid_18006</text><text class="r" x="359.3" y="17.5">[table]</text><text x="4.3" y="45">...</text><text x="5" y="69.5">&lt; 3</text><text class="r" x="287.3" y="69.5">36,152 rows</text></g>
<g id="n-complementos_exp03_2017_unid_18007" transform="translate(801.7,2839.8)"><use href="#R5"/><text class="n" x="7.6" y="17.5">complementos_exp03_2017_unid_18007</text><text class="r" x="359.3" y="17.5">[table]</text><text x="4.3" y="45">...</text><text x="5" y="69.5">&lt; 3</text><text class="r" x="287.3" y="69.5">36,152 rows</text></g>
<g id="n-complementos_exp03_2017_unid_18008" transform="translate(801.7,2945.1)"><use href="#R5"/><text class="n" x="7.6" y="17.5">complementos_exp03_2017_unid_18008</text><text class="r" x="359.3" y="17.5">[table]</text><text x="4.3" y="45">...</text><text x="5" y="69.5">&lt; 3</text><text class="r" x="287.3" y="69.5">36,152 rows</text></g>
<g id="n-complementos_exp03_2018_unid_18006" transform="translate(801.7,3050.4)"><use href="#R6"/><text class="n" x="7.6" y="17.5">complementos_exp03_2018_unid_18006</text><text class="r" x="359.3" y="17.5">[table]</text><text x="4.3" y="45">...</text><text x="5" y="69.5">&lt; 3</text><text class="r" x="290.6" y="69.5">273,057 rows</text></g>
<g id="n-complementos_exp03_2018_unid_18007" transform="translate(801.7,3155.8)"><use href="#R6"/><text class="n" x="7.6" y="17.5">complementos_exp03_2018_unid_18007</text><text class="r" x="359.3" y="17.5">[table]</text><text x="4.3" y="45">...</text><text x="5" y="69.5">&lt; 3</text><text class="r" x="290.6" y="69.5">273,057 rows</text></g>
<g id="n-complementos_exp03_2018_unid_18008" transform="translate(801.7,3261.1)"><use href="#R6"/><text class="n" x="7.6" y="17.5">complementos_exp03_2018_unid_18008</text><text class="r" x="359.3" y="17.5">[table]</text><text x="4.3" y="45">...</text><text x="5" y="69.5">&lt; 3</text><text class="r" x="290.6" y="69.5">273,057 rows</text></g>
<g id="n-complementos_exp03_2019_unid_18006" transform="translate(801.7,3366.5)"><use href="#R5"/><text class="n" x="7.6" y="17.5">complementos_exp03_2019_unid_18006</text><text class="r" x="359.3" y="17.5">[table]</text><text x="4.3" y="45">...</text><text x="5" y="69.5">&lt; 3</text><text class="r" x="287.3" y="69.5">60,477 rows</text></g>
<g id="n-complementos_exp03_2019_unid_18007" transform="translate(801.7,3471.8)"><use href="#R5"/><text class="n" x="7.6" y="17.5">complementos_exp03_2019_unid_18007</text><text class="r" x="359.3" y="17.5">[table]</text><text x="4.3" y="45">...</text><text x="5" y="69.5">&lt; 3</text><text class="r" x="287.3" y="69.5">60,477 rows</text></g>
<g id="n-complementos_exp03_2019_unid_18008" transform="translate(801.7,3577.1)"><use href="#R5"/><text class="n" x="7.6" y="17.5">complementos_exp03_2019_unid_18008</text><text class="r" x="359.3" y="17.5">[table]</text><text x="4.3" y="45">...</text><text x="5" y="69.5">&lt; 3</text><text class="r" x="287.3" y="69.5">60,477 rows</text></g>
<g id="n-complementos_exp03_2020_unid_18006" transform="translate(801.7,3682.5)"><use href="#R5"/><text class="n" x="7.6" y="17.5">complementos_exp03_2020_unid_18006</text><text class="r" x="359.3" y="17.5">[table]</text><text x="4.3" y="45">...</text><text x="5" y="69.5">&lt; 3</text><text class="r" x="287.3" y="69.5">49,654 rows</text></g>
<g id="n-complementos_exp03_2020_unid_18007" transform="translate(801.7,3787.8)"><use href="#R5"/><text class="n" x="7.6" y="17.5">complementos_exp03_2020_unid_18007</text><text class="r" x="359.3" y="17.5">[table]</text><text x="4.3" y="45">...</text><text x="5" y="69.5">&lt; 3</text><text class="r" x="287.3" y="69.5">49,654 rows</text></g>
<g id="n-complementos_exp03_2020_unid_18008" transform="translate(801.7,3893.2)"><use href="#R5"/><text class="n" x="7.6" y="17.5">complementos_exp03_2020_unid_18008</text><text class="r" x="359.3" y="17.5">[table]</text><text x="4.3" y="45">...</text><text x="5" y="69.5">&lt; 3</text><text class="r" x="287.3" y="69.5">49,654 rows</text></g>
<g id="n-complementos_exp03_2021_unid_18006" transform="translate(801.7,3998.5)"><use href="#R5"/><text class="n" x="7.6" y="17.5">complementos_exp03_2021_unid_18006</text><text class="r" x="359.3" y="17.5">[table]</text><text x="4.3" y="45">...</text><text x="5" y="69.5">&lt; 3</text><text class="r" x="287.3" y="69.5">75,734 rows</text></g>
<g id="n-complementos_exp03_2021_unid_18007" transform="translate(801.7,4103.8)"><use href="#R5"/><text class="n" x="7.6" y="17.5">complementos_exp03_2021_unid_18007</text><text class="r" x="359.3" y="17.5">[table]</text><text x="4.3" y="45">...</text><text x="5" y="69.5">&lt; 3</text><text class="r" x="287.3" y="69.5">75,734 rows</text></g>
<g id="n-complementos_exp03_2021_unid_18008" transform="translate(801.7,4209.2)"><use href="#R5"/><text class="n" x="7.6" y="17.5">complementos_exp03_2021_unid_18008</text><text class="r" x="359.3" y="17.5">[table]</text><text x="4.3" y="45">...</text><text x="5" y="69.5">&lt; 3</text><text class="r" x="287.3" y="69.5">75,734 rows</text></g>
<g id="n-complementos_exp03_2022_unid_18006" transform="translate(801.7,4314.5)"><use href="#R6"/><text class="n" x="7.6" y="17.5">complementos_exp03_2022_unid_18006</text><text class="r" x="359.3" y="17.5">[table]</text><text x="4.3" y="45">...</text><text x="5" y="69.5">&lt; 3</text><text class="r" x="290.6" y="69.5">128,136 rows</text></g>
<g id="n-complementos_exp03_2022_unid_18007" transform="translate(801.7,4419.9)"><use href="#R6"/><text class="n" x="7.6" y="17.5">complementos_exp03_2022_unid_18007</text><text class="r" x="359.3" y="17.5">[table]</text><text x="4.3" y="45">...</text><text x="5" y="69.5">&lt; 3</text><text class="r" x="290.6" y="69.5">128,136 rows</text></g>
<g id="n-complementos_exp03_2022_unid_18008" transform="translate(801.7,4525.2)"><use href="#R6"/><text class="n" x="7.6" y="17.5">complementos_exp03_2022_unid_18008</text><text class="r" x="359.3" y="17.5">[table]</text><text x="4.3" y="45">...</text><text x="5" y="69.5">&lt; 3</text><text class="r" x="290.6" y="69.5">128,136 rows</text></g>
<g id="n-complementos_exp03_2023_unid_18006" transform="translate(801.7,4630.5)"><use href="#R5"/><text class="n" x="7.6" y="17.5">complementos_exp03_2023_unid_18006</text><text class="r" x="359.3" y="17.5">[table]</text><text x="4.3" y="45">...</text><text x="5" y="69.5">&lt; 3</text><text class="r" x="287.3" y="69.5">67,798 rows</text></g>
<g id="n-complementos_exp03_2023_unid_18007"><rect class="bx" x="741" y="4736.7" width="490" height="233.3"/><rect class="hd" x="741" y="4736.7" width="490" height="31"/><path class="ln" d="M741,4796.7H1231M741,4826.7H1231M741,4856H1231M741,4885H1231M741,4914.3H1231M741,4943.3H1231M1080.7,4767.7V4970M881.7,4943.3V4970"/><rect x="741" y="4736.7" width="490" height="233.3" fill="none" stroke="#333" stroke-width="2.3"/><text class="n" x="750.7" y="4757.5">complementos_exp03_2023_unid_18007</text><text class="r" x="1221" y="4757.5">[table]</text><use href="#key" x="758.3" y="4811.7"/><use href="#key" x="758.3" y="4899.7"/><use href="#key" x="758.3" y="4928.8"/><text x="770.7" y="4786.7">complementoID</text><text x="770.7" y="4816.2">movimentoID</text><text x="770.7" y="4845.8">tipo</text><text x="770.7" y="4875">descricao</text><text x="770.7" y="4904.2">unidadeID</text><text x="770.7" y="4933.3">anoPrimeiroMovimento</text><text x="1083.3" y="4786.7">bigserial[19]</text><text x="1083.3" y="4816.2">int8[19]</text><text x="1083.3" y="4845.8">varchar[2147483647]</text><text x="1083.3" y="4875">varchar[2147483647]</text><text x="1083.3" y="4904.2">int8[19]</text><text x="1083.3" y="4933.3">int4[10]</text><text x="747.3" y="4961">&lt; 3</text><text class="r" x="1075" y="4961">67,798 rows</text><text class="r" x="1221" y="4961">0 &gt;</text></g>
<g id="n-complementos_exp03_2023_unid_18008" transform="translate(801.7,4998)"><use href="#R5"/><text class="n" x="7.6" y="17.5">complementos_exp03_2023_unid_18008</text><text class="r" x="359.3" y="17.5">[table]</text><text x="4.3" y="45">...</text><text x="5" y="69.5">&lt; 3</text><text class="r" x="287.3" y="69.5">67,798 rows</text></g>
</g>
<text x="16" y="5710">Generated by SchemaSpy</text>
</svg>
